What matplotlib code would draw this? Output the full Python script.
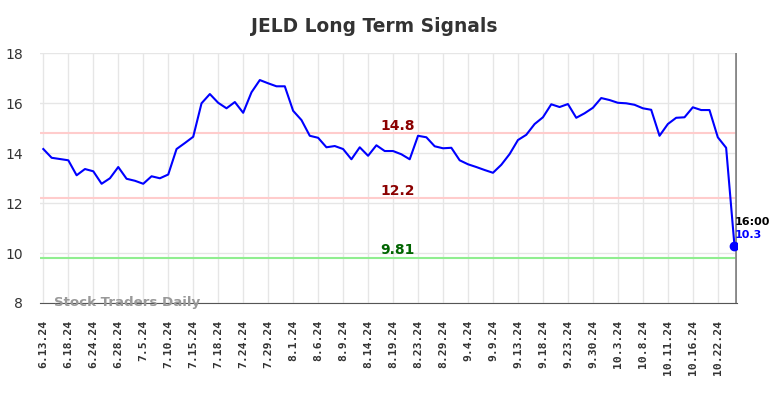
import matplotlib
matplotlib.use("Agg")
import matplotlib.pyplot as plt

# closing prices, one per trading session shown
prices = [14.16, 13.81, 13.76, 13.71, 13.11, 13.36, 13.27, 12.77, 12.99, 13.44,
          12.97, 12.89, 12.77, 13.07, 12.99, 13.14, 14.16, 14.40, 14.65, 15.99,
          16.36, 16.01, 15.79, 16.04, 15.61, 16.43, 16.92, 16.79, 16.67, 16.67,
          15.69, 15.32, 14.69, 14.61, 14.23, 14.28, 14.16, 13.75, 14.23, 13.89,
          14.31, 14.08, 14.08, 13.95, 13.75, 14.69, 14.63, 14.27, 14.19, 14.21,
          13.71, 13.55, 13.44, 13.32, 13.21, 13.53, 13.96, 14.52, 14.73, 15.16,
          15.43, 15.95, 15.84, 15.96, 15.41, 15.59, 15.81, 16.20, 16.12, 16.01,
          15.99, 15.93, 15.79, 15.73, 14.69, 15.16, 15.41, 15.43, 15.83, 15.72,
          15.72, 14.63, 14.21, 10.30]

tick_labels = ["6.13.24", "6.18.24", "6.24.24", "6.28.24", "7.5.24", "7.10.24",
               "7.15.24", "7.18.24", "7.24.24", "7.29.24", "8.1.24", "8.6.24",
               "8.9.24", "8.14.24", "8.19.24", "8.23.24", "8.29.24", "9.4.24",
               "9.9.24", "9.13.24", "9.18.24", "9.23.24", "9.30.24", "10.3.24",
               "10.8.24", "10.11.24", "10.16.24", "10.22.24"]

resist_hi = 14.8
resist_lo = 12.2
support = 9.81
last_time = "16:00"

x = list(range(len(prices)))

fig = plt.figure(figsize=(7.84, 3.98), dpi=100)
ax = fig.add_axes([0.051, 0.2387, 0.889, 0.628])

ax.plot(x, prices, color="#0000ff", lw=1.5, zorder=3)
ax.plot(x[-1], prices[-1], "o", color="#0000ff", ms=6, zorder=4)

ax.axhline(resist_hi, color="#ffcccc", lw=1.5, zorder=2)
ax.axhline(resist_lo, color="#ffcccc", lw=1.5, zorder=2)
ax.axhline(support, color="#90ee90", lw=1.5, zorder=2)
ax.axvline(x[-1] + 0.2, color="#888888", lw=2, zorder=2)

mid = 42.5
ax.text(mid, resist_hi + 0.3, str(resist_hi), color="#8b0000", fontsize=10,
        fontweight="bold", ha="center", va="center")
ax.text(mid, resist_lo + 0.3, str(resist_lo), color="#8b0000", fontsize=10,
        fontweight="bold", ha="center", va="center")
ax.text(mid, support + 0.3, str(support), color="#006400", fontsize=10,
        fontweight="bold", ha="center", va="center")

ax.text(x[-1], prices[-1] + 0.95, last_time, color="black", fontsize=8,
        fontweight="bold", ha="left", va="center")
ax.text(x[-1], prices[-1] + 0.43, str(prices[-1]), color="#0000ff", fontsize=8,
        fontweight="bold", ha="left", va="center")

ax.text(1.3, 8.02, "Stock Traders Daily", color="#999999", fontsize=9.6,
        fontweight="bold", ha="left", va="center", zorder=5)

ax.set_xlim(-0.4, 83.3)
ax.set_ylim(8, 18)
ax.set_yticks(range(8, 19, 2))
ax.set_xticks(range(0, 3 * len(tick_labels), 3))
ax.set_xticklabels(tick_labels, rotation=90, fontsize=8.2, fontweight="bold",
                   family="DejaVu Sans Mono")
ax.tick_params(axis="both", length=0, colors="#333333")
ax.tick_params(axis="y", labelsize=10, pad=12)
ax.tick_params(axis="x", pad=12)

ax.grid(True, color="#e6e6e6", lw=1)
ax.set_axisbelow(True)
for s in ["top", "left", "right"]:
    ax.spines[s].set_visible(False)
ax.spines["bottom"].set_color("#555555")

fig.text(374 / 784, 1 - 26 / 398, "JELD Long Term Signals", fontsize=13.4,
         fontweight="bold", color="#333333", ha="center", va="center")

fig.savefig("out.png", dpi=100)
